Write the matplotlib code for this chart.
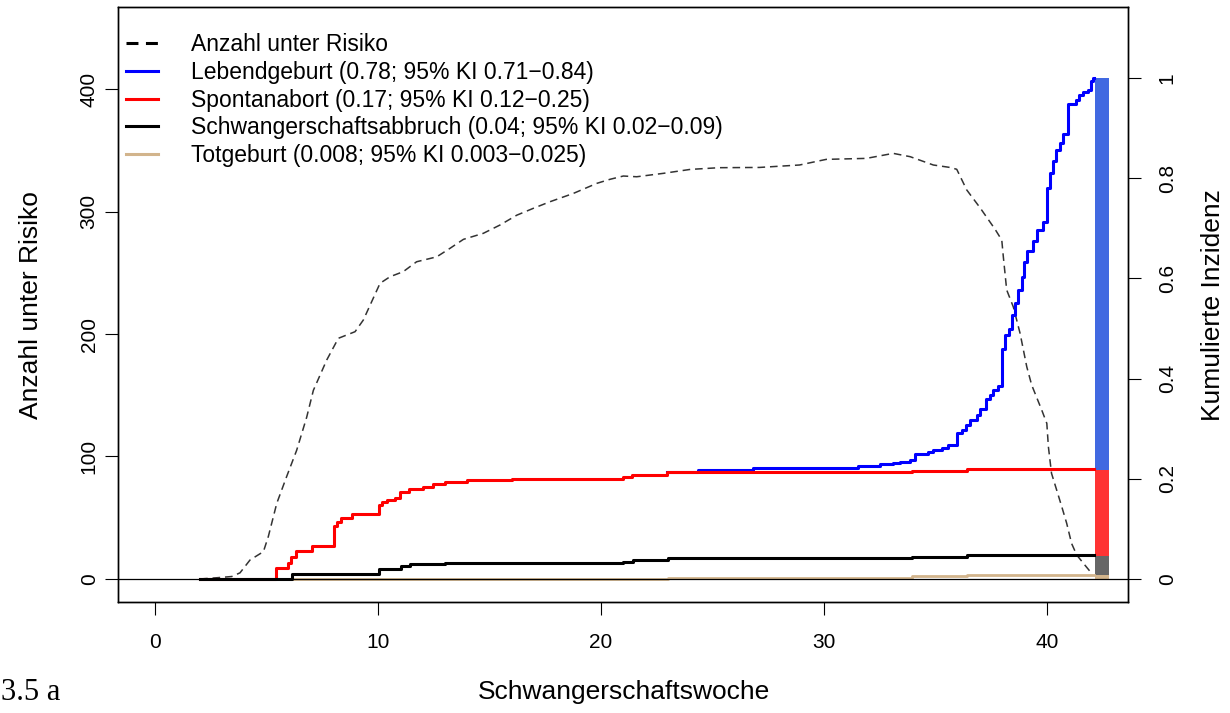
import matplotlib
matplotlib.use("Agg")
import matplotlib.pyplot as plt
from matplotlib.lines import Line2D

plt.rcParams['font.family'] = ['Liberation Sans', 'DejaVu Sans']
plt.rcParams['lines.scale_dashes'] = False

# ---- data ----
risk_weeks = [2.02, 2.77, 3.44, 3.81, 4.26, 4.86, 5.08, 5.46, 5.9, 6.35, 6.8, 7.1, 7.7, 8.22, 8.97,
              9.34, 10.09, 10.54, 11.13, 11.73, 12.63, 13.23, 13.83, 14.72, 15.47, 16.22, 16.96,
              17.71, 18.76, 19.81, 20.4, 21.0, 21.6, 22.8, 24.0, 25.3, 27.1, 28.9, 30.1, 31.9,
              33.1, 33.86, 34.9, 35.65, 35.95, 36.4, 37.0, 37.67, 37.97, 38.04, 38.19, 38.49,
              38.79, 39.09, 39.31, 39.76, 39.99, 40.06, 40.2, 40.43, 40.66, 40.88, 41.1, 41.33,
              41.63, 42.0]
risk_n = [0, 1, 2, 5, 15.5, 22.3, 34.6, 61.8, 83.5, 105, 132, 154, 178.8, 196.5, 201.9,
          211.4, 241.4, 246.8, 250.9, 259, 263, 270, 277.3, 282.2, 289, 297, 302.6,
          308, 314.8, 323, 326.3, 329, 328.4, 331.2, 334.4, 335.8, 336, 338, 342.6, 343.4,
          347.5, 344.8, 338, 336, 334.5, 317.6, 303, 285.5, 276.7, 263, 236, 222,
          200.6, 173.3, 158.4, 138, 127, 108, 86.3, 72.7, 59, 45.5, 29, 19.6,
          12.8, 4.6]

live_weeks = [22.95, 24.36, 26.83, 31.54, 32.51, 33.08, 33.4, 33.86, 34.08, 34.68, 34.9, 35.28,
              35.58, 35.95, 36.17, 36.37, 36.55, 36.85, 37.0, 37.26, 37.44, 37.59, 37.82, 37.97,
              38.12, 38.31, 38.42, 38.57, 38.71, 38.86, 38.97, 39.12, 39.39, 39.54, 39.84, 39.99,
              40.13, 40.25, 40.40, 40.58, 40.70, 40.96, 41.30, 41.43, 41.6, 41.85, 41.96, 42.05,
              42.12]
live_ci = [0.2137, 0.2185, 0.2225, 0.2265, 0.2297, 0.2324, 0.2337, 0.237, 0.250, 0.2536, 0.258,
           0.262, 0.267, 0.291, 0.297, 0.308, 0.318, 0.327, 0.340, 0.360, 0.367, 0.378, 0.386,
           0.460, 0.488, 0.499, 0.526, 0.550, 0.576, 0.602, 0.632, 0.655, 0.674, 0.697, 0.712,
           0.781, 0.811, 0.835, 0.856, 0.871, 0.889, 0.948, 0.956, 0.967, 0.972, 0.977, 0.995,
           1.0, 1.0]

spont_weeks = [2.0, 5.43, 5.98, 6.12, 6.32, 7.05, 8.04, 8.15, 8.33, 8.85, 10.03, 10.16, 10.42,
               10.76, 10.99, 11.41, 12.0, 12.45, 13.0, 14.01, 16.03, 20.97, 21.4, 22.95, 33.93,
               36.43, 42.12]
spont_ci = [0, 0.0213, 0.0325, 0.0444, 0.0564, 0.0657, 0.106, 0.114, 0.121, 0.129, 0.147, 0.154,
            0.157, 0.162, 0.173, 0.179, 0.183, 0.189, 0.194, 0.197, 0.200, 0.204, 0.208, 0.2137,
            0.2157, 0.219, 0.219]

abort_weeks = [2.0, 6.13, 10.03, 11.02, 11.43, 13.02, 20.97, 21.42, 23.0, 33.95, 36.43, 42.12]
abort_ci = [0, 0.010, 0.019, 0.026, 0.029, 0.031, 0.0345, 0.038, 0.042, 0.0445, 0.047, 0.047]

still_weeks = [2.0, 23.0, 33.95, 36.43, 42.12]
still_ci = [0, 0.0027, 0.0055, 0.008, 0.008]

bar_bounds = [0.0, 0.007, 0.046, 0.2185, 1.0]
bar_colors = ['#D2B48C', '#666666', '#FF3333', '#4169E1']

legend_labels = ['Anzahl unter Risiko',
                 'Lebendgeburt (0.78; 95% KI 0.71\u22120.84)',
                 'Spontanabort (0.17; 95% KI 0.12\u22120.25)',
                 'Schwangerschaftsabbruch (0.04; 95% KI 0.02\u22120.09)',
                 'Totgeburt (0.008; 95% KI 0.003\u22120.025)']

x_ticks = [0, 10, 20, 30, 40]
left_ticks = [0, 100, 200, 300, 400]
right_ticks = [0, 0.2, 0.4, 0.6, 0.8, 1.0]
right_ticklabels = ['0', '0.2', '0.4', '0.6', '0.8', '1']

# ---- figure ----
W, H = 1230, 713
fig = plt.figure(figsize=(W / 100, H / 100), dpi=100)
ax = fig.add_axes([118 / W, 1 - 602 / H, 1010 / W, 595 / H])
ax2 = ax.twinx()

ylo, yhi = -18.8, 467.0
scale = 409.0
ax.set_xlim(-1.66, 43.63)
ax.set_ylim(ylo, yhi)
ax2.set_ylim(ylo / scale, yhi / scale)

# risk set (left axis)
ax.plot(risk_weeks, risk_n, color='#333333', lw=1.1, dashes=(5.5, 3.5))

# cumulative incidence (right axis)
ax2.step(still_weeks, still_ci, where='post', color='#D2B48C', lw=2.0)
ax2.step(live_weeks, live_ci, where='post', color='#0000FF', lw=2.2)
ax2.step(spont_weeks, spont_ci, where='post', color='#FF0000', lw=2.2)
ax2.step(abort_weeks, abort_ci, where='post', color='black', lw=2.2)
ax2.axhline(0, color='black', lw=0.9)

for i in range(4):
    ax2.bar(42.46, bar_bounds[i + 1] - bar_bounds[i], bottom=bar_bounds[i], width=0.63,
            color=bar_colors[i], linewidth=0)

# ticks
tick_len = 9.4
ax.set_xticks(x_ticks)
ax.set_xticklabels([str(v) for v in x_ticks])
ax.set_yticks(left_ticks)
ax.set_yticklabels([str(v) for v in left_ticks], rotation=90, va='center')
ax2.set_yticks(right_ticks)
ax2.set_yticklabels(right_ticklabels, rotation=90, va='center')
ax.tick_params(axis='x', direction='out', length=tick_len, width=0.8, labelsize=15, pad=13)
ax.tick_params(axis='y', direction='out', length=tick_len, width=0.8, labelsize=15, pad=4.5)
ax2.tick_params(axis='y', direction='out', length=tick_len, width=0.8, labelsize=15, pad=12)
for a in (ax, ax2):
    for s in a.spines.values():
        s.set_linewidth(1.0)

# axis labels
fig.text(624 / W, 1 - 692 / H, 'Schwangerschaftswoche', ha='center', va='center', fontsize=19)
fig.text(31 / W, 1 - 305 / H, 'Anzahl unter Risiko', ha='center', va='center', fontsize=19,
         rotation=90)
fig.text(1213 / W, 1 - 305 / H, 'Kumulierte Inzidenz', ha='center', va='center', fontsize=19,
         rotation=90)
fig.text(1 / W, 1 - 692 / H, '3.5 a', ha='left', va='center', fontsize=22,
         family=['Liberation Serif', 'DejaVu Serif'])

# legend
handles = [Line2D([], [], color='black', lw=2.2, dashes=(8.6, 5.4)),
           Line2D([], [], color='#0000FF', lw=2.2),
           Line2D([], [], color='#FF0000', lw=2.2),
           Line2D([], [], color='black', lw=2.2),
           Line2D([], [], color='#D2B48C', lw=2.2)]
leg = ax.legend(handles, legend_labels, loc='upper left', frameon=False, fontsize=16.5,
                handlelength=1.4, handletextpad=1.45, labelspacing=0.21,
                bbox_to_anchor=(128 / W - 0.002, 1 - 33 / H), bbox_transform=fig.transFigure,
                borderaxespad=0, borderpad=0)

fig.savefig('out.png', dpi=100)
